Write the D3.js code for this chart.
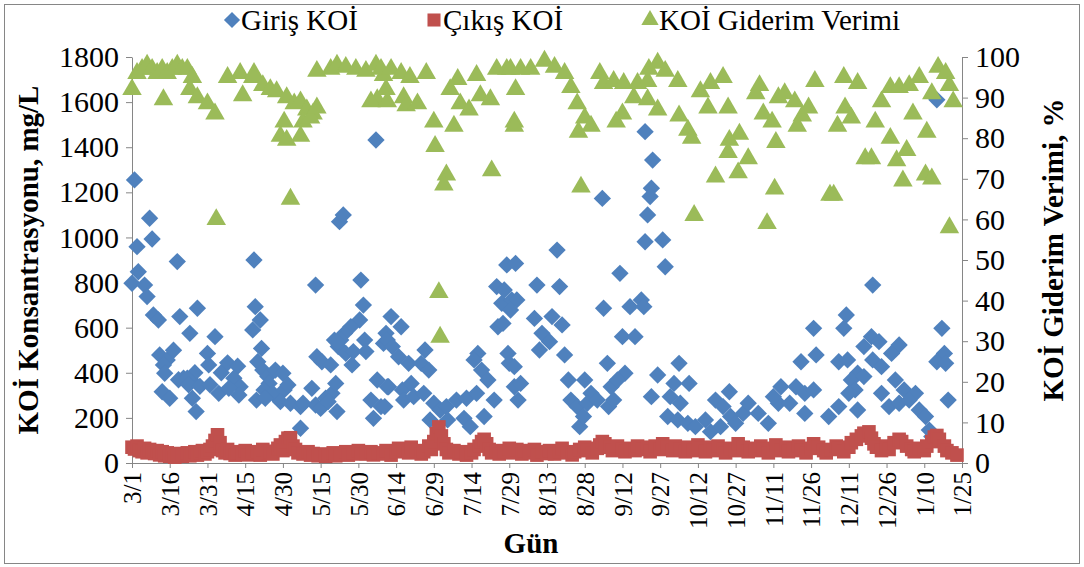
<!DOCTYPE html>
<html>
<head>
<meta charset="utf-8">
<script src="https://cdn.jsdelivr.net/npm/d3@7"></script>
<style>
  body { margin: 0; background: #fff; }
</style>
</head>
<body>
<svg width="1084" height="567"></svg>
<script>
// day index counted from 3/1, tick every 15 days
const tickLabels = ["3/1", "3/16", "3/31", "4/15", "4/30", "5/15", "5/30", "6/14", "6/29", "7/14", "7/29",
    "8/13", "8/28", "9/12", "9/27", "10/12", "10/27", "11/11", "11/26", "12/11", "12/26", "1/10", "1/25"];

// [day, mg/L]
const girisKOI = [
    [1,1255],[7,1085],[2,959],[8,993],[2.5,848],[0,797],[5,789],[6,738],[8.5,656],[10.5,634],[18,893],[19,649],
    [26,686],[23,575],[33,560],[11,479],[14,457],[16.5,500],[12.5,435],[13,398],[20.5,376],[18.5,369],[23.5,369],
    [25,400],[30,486],[30.5,435],[35.5,400],[38,444],[42,429],[40.5,376],[43,338],[12,316],[15,287],[22,376],
    [22.5,347],[27,340],[31,347],[24,287],[25.5,228],[34.5,309],[38.5,331],[42.5,301],[49.5,279],
    [48.5,900],[97,1432],[82.5,1070],[84,1100],[73,789],[91,811],[49,693],[92,700],[51,634],[48,590],[90.5,634],
    [87,604],[84.5,575],[83,545],[82,516],[51.5,508],[50,449],[73.5,471],[75.5,449],[79,435],[92.5,545],[93,494],
    [101,575],[100,530],[80.5,545],[81.5,538],[85,486],[87.5,435],[88,494],[52,412],[54,383],[57,412],[60,398],
    [54.5,353],[52.5,324],[56,309],[60.5,324],[62,346],[53,287],[59,272],[63,265],[67,250],[71.5,331],[73,257],
    [77,287],[79.5,309],[81,353],[68,265],[75,242],[78,272],[81.5,228],[67,154],[97.5,368],[95,279],[99,250],
    [96,198],[102,338],
    [149,878],[145,782],[148,767],[147,708],[151,723],[145.5,604],[147.5,619],[103,649],[107,604],[101.5,545],
    [103.5,516],[106,471],[110,442],[116.5,501],[115,442],[118,412],[137.5,486],[136,457],[149.5,486],[150,442],
    [101.5,338],[107.5,324],[111,353],[139,412],[141.5,368],[108,279],[112,294],[116,309],[100.5,250],[120,265],
    [122.5,235],[125,250],[129,279],[133,287],[137,309],[144,279],[132,198],[134.5,161],[140,206],[118.5,191],
    [125.5,191],[152,338],[153.5,279],
    [187,1173],[169,944],[194,841],[161,789],[170,782],[152.5,885],[153,723],[198,693],[187.5,686],[160,641],
    [167,649],[171,612],[163,575],[166,538],[195,560],[200,560],[162,501],[172,479],[189,442],[196,398],[152,427],
    [154.5,353],[173.5,368],[180,368],[182.5,309],[190.5,338],[193,368],[174.5,279],[177,250],[181,265],[185,279],
    [189.5,250],[191.5,279],[178,161],[179.5,206],[206.5,294],[150.5,678],
    [204,1469],[207,1343],[206.5,1218],[206,1181],[205,1100],[204,981],[211,989],[212,870],[202.5,723],[203.5,693],
    [217.5,442],[209,390],[215.5,353],[221.5,353],[214,294],[218,265],[237.5,316],[232,279],[235,250],[213,206],
    [217,191],[221,176],[224,161],[228,191],[230,139],[234,161],[238,206],[240,176],[243,220],[245,265],[249,220],
    [253,176],[257,265],
    [294.5,789],[322,597],[284,656],[283,597],[271,597],[272,479],[266,449],[294,560],[297,538],[291,516],
    [305,523],[302,486],[323,486],[320,449],[323.5,442],[281,449],[284.5,457],[288.5,398],[294.5,457],[298,427],
    [286,368],[291,383],[287.5,324],[285,309],[258,338],[264,338],[267.5,309],[271,324],[255,294],[261.5,265],
    [267.5,220],[277,206],[281,250],[288.5,235],[298,309],[303.5,368],[307,324],[311.5,309],[301,250],[305,265],
    [309,279],[313,235],[315.5,206],[317,146],[318,117],[324.5,279],[320,1610]
];

// [day, mg/L]
const cikisKOI = [
    [0,70],[1,62],[2,75],[3,55],[4,50],[5,65],[6,45],[7,60],[8,52],[9,42],[10,55],[11,36],[12,50],[13,32],
    [14,45],[15,30],[16,40],[17,26],[18,35],[19,42],[20,30],[21,36],[22,45],[23,32],[24,40],[25,50],[26,35],
    [27,45],[28,55],[29,40],[30,50],[31,60],[32,75],[33,100],[34,125],[35,90],[36,55],[37,45],[38,60],[39,42],
    [40,50],[41,35],[42,45],[44,40],[45,55],[46,36],[48,45],[50,50],[51,35],[52,60],[54,45],[55,52],[56,40],
    [58,65],[59,80],[60,55],[61,95],[62,110],[63,112],[64,75],[65,60],[66,45],[68,40],[70,50],[71,35],[72,42],
    [74,32],[75,40],[77,30],[78,36],[80,45],[81,32],[83,40],[85,50],[86,35],[88,45],[90,55],[91,40],[93,42],
    [95,50],[96,36],[98,45],[100,40],[101,55],[103,35],[105,50],[106,65],[108,60],[110,45],[111,70],[113,55],
    [115,40],[116,50],[118,75],[119,60],[120,95],[121,130],[122,160],[123,120],[124,85],[125,60],[126,45],
    [128,55],[130,40],[131,50],[133,35],[135,45],[136,60],[138,75],[139,95],[140,105],[141,85],[142,60],[143,45],
    [145,55],[146,40],[148,50],[150,65],[151,45],[153,60],[155,40],[156,55],[158,45],[160,60],[161,35],[163,50],
    [165,42],[166,55],[168,40],[170,52],[171,65],[173,45],[175,36],[176,50],[178,60],[180,70],[181,55],[183,45],
    [185,65],[186,80],[187,95],[188,85],[190,70],[191,55],[193,75],[195,60],[196,50],[198,65],[200,55],[201,75],
    [203,60],[205,70],[206,50],[208,75],[210,60],[211,85],[213,70],[215,55],[216,75],[218,60],[220,50],[221,70],
    [223,55],[225,80],[226,65],[228,50],[230,70],[231,55],[233,75],[235,60],[236,45],[238,65],[240,55],[241,85],
    [243,70],[245,50],[246,65],[248,55],[250,75],[251,60],[253,45],[255,65],[256,80],[258,55],[260,70],[261,50],
    [263,60],[265,75],[266,55],[268,45],[270,65],[271,85],[273,70],[275,55],[276,45],[278,60],[280,75],[281,65],
    [283,50],[285,70],[286,90],[288,105],[290,120],[291,132],[293,138],[294,110],[295,85],[296,70],[298,55],
    [300,75],[301,60],[303,90],[305,105],[306,95],[308,75],[310,60],[311,50],[313,65],[315,55],[316,75],[318,95],
    [319,115],[320,122],[321,105],[323,75],[324,55],[326,45],[328,35]
];

// [day, %]
const verim = [
    [0,92],[2,96],[4,97],[6,98],[8,97],[10,96],[12,97],[12.5,89.5],[14,96],[16,97],[18,98],[20,97],[22,97],
    [24,95],[23,92],[26,90],[30,88.5],[33,86],[33.5,60],[38,95],[43,96],[44,90.5],[48,95],
    [48.5,96],[52,93],[55,92],[57.5,91.5],[61.5,90],[64.5,88.5],[67,89],[69.5,87],[72,86],[60.5,84],[59,80.5],
    [67,80.5],[68,84],[71,85],[73.5,87.5],[61.5,79.5],[63,65],[73.5,96.5],[79,97],[81.5,98],[85,97.5],[89,97],
    [93,96.5],[97,98],[100,95.5],[97.5,89.5],[95,89],[101,92],
    [99,97],[103,97],[107,96],[110.5,95],[101.5,89],[108,90],[109,88],[113.5,88.5],[117,96],[120,84],[120.5,78],
    [125,71],[124,68.5],[122,42],[122.5,31],[126.5,92],[129.5,94.5],[130.5,88.5],[128,83],[134,87],[137,95.5],
    [138.5,90.5],[142.5,89.5],[143,72],[145,97],[149,97],[152,84],[152.5,92],
    [150.5,97],[154.5,97],[158.5,97],[164,99],[168,97.5],[172,96],[174.5,92.5],[177,88.5],[180,85],[177.5,81.5],
    [182.5,83],[152,83],[178.5,68],[186,96],[187.5,93.5],[191.5,94],[195.5,93.5],[192.5,84],[195,86],[199.5,90],
    [201,93.5],[205,94],
    [205.5,97],[209,98.5],[212,96.5],[205,89.5],[209,87],[217,94],[217.5,85.5],[221,82],[222.5,80],[223.5,61],
    [226,91.5],[230,93.5],[235,95],[229,87.5],[237,87.5],[237.5,79.5],[241.5,81],[237,76.5],[241,71.5],[232,70.5],
    [245,75],[248,91],[249.5,93],[252.5,59],[251,86],[255.5,67.5],[256,79],[254.5,84],[257,90],
    [259.5,91],[263.5,89],[266.5,85.5],[264.5,83],[271.5,94],[269,87.5],[277.5,66],[279,66],[283,95],[283.5,87.5],
    [280.5,83],[288.5,93.5],[286,85],[291.5,75],[294,75],[298,89],[295.5,84],[301.5,92.5],[301.5,80],[304,74.5],
    [306.5,69.5],[308,77],[305,92.5],[309,93],[313,95],[310.5,86],[315.5,71],[318,70],[316,81.5],[318,91],
    [320.5,97.5],[323.5,96],[325,58],[326.5,89],[325,93]
];

const FONT = '"Liberation Serif", serif';

const svg = d3.select("svg");
const W = +svg.attr("width");
const H = +svg.attr("height");
const L = 132, R = 962, T = 57, B = 463;
const grey = "#868686";

svg.append("rect")
    .attr("x", 4.5).attr("y", 4.5)
    .attr("width", W - 9).attr("height", H - 8)
    .attr("fill", "#fff").attr("stroke", grey);

const x = d3.scaleLinear().domain([0, 330]).range([L, R]);
const yL = d3.scaleLinear().domain([0, 1800]).range([B, T]);
const yR = d3.scaleLinear().domain([0, 100]).range([B, T]);

const styleAxis = (g, size) => {
    g.attr("font-family", FONT).attr("font-size", size);
    g.selectAll("path, line").attr("stroke", grey);
    g.selectAll("text").attr("fill", "#000");
};

svg.append("g")
    .attr("transform", `translate(${L},0)`)
    .call(d3.axisLeft(yL).tickValues(d3.range(0, 1801, 200)).tickFormat(d3.format("d"))
        .tickSize(6).tickSizeOuter(0).tickPadding(7))
    .call(styleAxis, 30);

svg.append("g")
    .attr("transform", `translate(${R},0)`)
    .call(d3.axisRight(yR).tickValues(d3.range(0, 101, 10)).tickFormat(d3.format("d"))
        .tickSize(6).tickSizeOuter(0).tickPadding(7))
    .call(styleAxis, 30);

const xAxis = svg.append("g")
    .attr("transform", `translate(0,${B})`)
    .call(d3.axisBottom(x).tickValues(d3.range(0, 331, 15)).tickFormat((d, i) => tickLabels[i])
        .tickSize(5).tickSizeOuter(0))
    .call(styleAxis, 25);
xAxis.selectAll("text")
    .attr("text-anchor", "end")
    .attr("transform", "rotate(-90)")
    .attr("x", -9).attr("y", 0).attr("dy", "0.35em");

// markers
const diamond = d3.symbol(d3.symbolSquare, 150)();
const square = d3.symbol(d3.symbolSquare, 185)();
const triangle = d3.symbol(d3.symbolTriangle, 165)();

svg.append("g").selectAll("path").data(girisKOI).join("path")
    .attr("d", diamond)
    .attr("transform", d => `translate(${x(d[0])},${yL(d[1])}) rotate(45)`)
    .attr("fill", "#4f81bd");

svg.append("g").selectAll("path").data(cikisKOI).join("path")
    .attr("d", square)
    .attr("transform", d => `translate(${x(d[0])},${yL(d[1])})`)
    .attr("fill", "#c0504d");

svg.append("g").selectAll("path").data(verim).join("path")
    .attr("d", triangle)
    .attr("transform", d => `translate(${x(d[0])},${yR(d[1])})`)
    .attr("fill", "#9bbb59");

// axis titles
const title = (tx, ty, rot, txt) => svg.append("text")
    .attr("transform", `translate(${tx},${ty}) rotate(${rot})`)
    .attr("text-anchor", "middle")
    .attr("font-family", FONT).attr("font-size", 29).attr("font-weight", "bold")
    .text(txt);

title(38, 260, -90, "KOİ Konsantrasyonu, mg/L");
title(1063, 250, -90, "KOİ Giderim Verimi, %");
title(531, 553, 0, "Gün");

// legend
const legend = [
    {name: "Giriş KOİ", color: "#4f81bd", shape: d3.symbol(d3.symbolSquare, 130)(), rot: 45, x: 232},
    {name: "Çıkış KOİ", color: "#c0504d", shape: d3.symbol(d3.symbolSquare, 170)(), rot: 0, x: 434},
    {name: "KOİ Giderim Verimi", color: "#9bbb59", shape: d3.symbol(d3.symbolTriangle, 130)(), rot: 0, x: 650}
];
const lg = svg.append("g")
    .attr("font-family", FONT).attr("font-size", 29)
    .selectAll("g").data(legend).join("g")
    .attr("transform", d => `translate(${d.x},20)`);
lg.append("path")
    .attr("d", d => d.shape)
    .attr("transform", d => `rotate(${d.rot})`)
    .attr("fill", d => d.color);
lg.append("text")
    .attr("x", 9).attr("dy", "0.35em")
    .text(d => d.name);
</script>
</body>
</html>
